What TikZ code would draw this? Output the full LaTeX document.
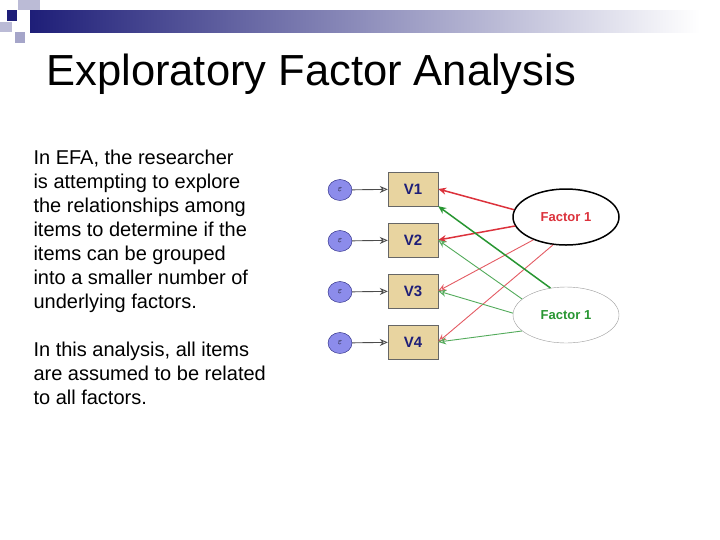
\documentclass[tikz,border=0pt]{standalone}
\usepackage{fontspec}
\setmainfont{Liberation Sans}
\usetikzlibrary{positioning,shapes.geometric,arrows.meta}
\definecolor{barblue}{RGB}{30,30,120}
\definecolor{boxfill}{RGB}{232,212,160}
\definecolor{epsfill}{RGB}{140,140,235}
\definecolor{redline}{RGB}{220,50,60}
\definecolor{greenline}{RGB}{40,150,50}
\begin{document}
\begin{tikzpicture}[x=1pt,y=-1pt,
    var/.style={draw=black!60,fill=boxfill,minimum width=50pt,minimum height=34pt,font=\bfseries\fontsize{15}{15}\selectfont,text=barblue},
    err/.style={ellipse,draw=barblue,fill=epsfill,minimum width=24pt,minimum height=21pt,inner sep=0pt,font=\small},
    fac/.style={ellipse,minimum width=106pt,minimum height=56pt,fill=white,font=\bfseries\fontsize{13}{13}\selectfont},
    tip/.style={-{Stealth[length=8pt,width=7pt,open]},line width=0.9pt}]
    \useasboundingbox (0,0) rectangle (720,539);
    % header
    \shade[left color=barblue,right color=white] (30,10) rectangle (700,32);
    \fill[barblue!30] (18,0) rectangle (40,10);
    \fill[barblue!30] (0,22) rectangle (12,32);
    \fill[barblue!40] (15,32) rectangle (25,43);
    \fill[barblue] (7,10) rectangle (17,21);
    \node[anchor=base west,font=\fontsize{43.5}{44}\selectfont] (title) at (43,85) {Exploratory Factor Analysis};
    % text
    \node[anchor=north west,align=left,font=\fontsize{20}{24}\selectfont] (txt) at (30,146)
      {In EFA, the researcher\\is attempting to explore\\the relationships among\\items to determine if the\\items can be grouped\\into a smaller number of\\underlying factors.\\[24pt]In this analysis, all items\\are assumed to be related\\to all factors.};
    % diagram
    \foreach \i/\y in {1/189,2/240,3/291,4/342}{
      \node[var] (v\i) at (413,\y) {V\i};
      \node[err] (e\i) at (340,\y+1) {$\varepsilon$};
      \draw[tip,black!70] (e\i) -- (v\i);
    }
    \node[fac,draw=black,line width=1.5pt,text=redline] (f1) at (566,217) {Factor 1};
    \node[fac,draw=black!40,text=greenline] (f2) at (566,315) {Factor 1};
    \draw[tip,redline,line width=1.5pt] (f1.172) -- (v1.east);
    \draw[tip,redline,line width=1.5pt] (f1.190) -- (v2.east);
    \draw[tip,redline!80] (f1.215) -- (v3.east);
    \draw[tip,redline!80] (f1.245) -- (v4.east);
    \draw[tip,greenline,line width=1.5pt] (f2.120) -- (v1.south east);
    \draw[tip,greenline!80] (f2.160) -- (v2.east);
    \draw[tip,greenline!80] (f2.178) -- (v3.east);
    \draw[tip,greenline!80] (f2.200) -- (v4.east);
\end{tikzpicture}
\end{document}
